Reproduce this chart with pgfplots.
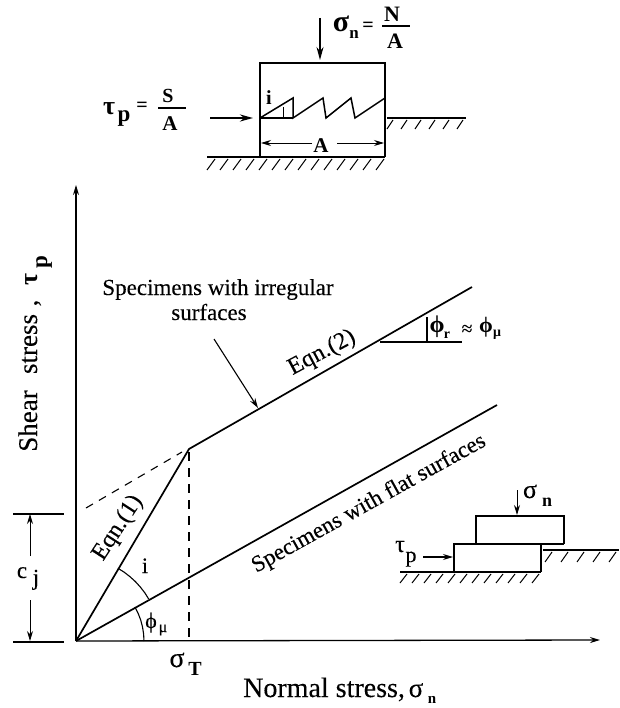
\documentclass[border=0pt]{standalone}
\usepackage{pgfplots}
\pgfplotsset{compat=1.18}
\usepackage{fontspec}
\setmainfont[FakeBold=0.2,BoldFeatures={FakeBold=0}]{Liberation Serif}
\usetikzlibrary{arrows.meta}
\newcommand{\fs}[1]{\fontsize{#1}{#1}\selectfont}
\tikzset{
  arr/.style={-{Stealth[length=10pt,width=6pt]}},
  bigarr/.style={-{Stealth[length=13pt,width=7pt]}},
  txt/.style={inner sep=0pt, anchor=base, font=\fs{#1}},
  btxt/.style={inner sep=0pt, anchor=base, font=\fs{#1}\bfseries}}

\begin{document}
\begin{tikzpicture}
\useasboundingbox (0,0) rectangle (619pt,708pt);
\begin{axis}[
  at={(0,0)}, anchor=south west,
  scale only axis, width=619pt, height=708pt,
  xmin=0, xmax=619, ymin=0, ymax=708, y dir=reverse,
  hide axis, clip=false, unbounded coords=jump,
  cycle list={{black}},
  every axis plot/.append style={line width=1.5pt, no markers}]

  % main axes
  \addplot[arr, line width=1.3pt] coordinates {(76,641) (76,185)};
  \addplot[arr, line width=1.3pt] coordinates {(76,641) (600,640)};

  % failure envelopes
  \addplot[line width=1.7pt] coordinates {(76,641) (189,449) (472,287)};
  \addplot[line width=1.7pt] coordinates {(76,641) (497,405)};
  \addplot[line width=1.1pt, dash pattern=on 8pt off 7pt] coordinates {(86,508) (182,452)};
  \addplot[line width=1.6pt, dash pattern=on 9pt off 7pt] coordinates {(189,452) (189,641)};

  % angle arcs
  \addplot[line width=1.1pt] coordinates {(118,568.3) (124.2,572.2) (130,576.7) (135.4,581.6) (140.3,587) (144.8,592.8) (148.7,599)};
  \addplot[line width=1.1pt] coordinates {(134.9,607) (138.1,613.3) (140.7,620) (142.5,626.9) (143.6,633.9) (144,641)};

  % slope triangle
  \addplot[line width=1.1pt] coordinates {(380,342) (462,342)};
  \addplot[line width=1.1pt] coordinates {(427,342) (427,317)};

  % c_j dimension
  \addplot[line width=1.2pt] coordinates {(13,514) (64,514)};
  \addplot[line width=1.2pt] coordinates {(13,642) (64,642)};
  \addplot[arr, line width=.9pt] coordinates {(30,556) (30,514)};
  \addplot[arr, line width=.9pt] coordinates {(30,600) (30,641)};

  % pointer to the upper envelope
  \addplot[arr, line width=1.1pt] coordinates {(214,339) (258,408)};

  % top sketch: box, teeth, ground
  \addplot coordinates {(260,157) (260,63) (385,63) (385,157)};
  \addplot coordinates {(260,118) (293,98) (293,118) (323,98) (326,118) (351,98) (355,118) (385,98) (385,118)};
  \addplot[line width=1.6pt] coordinates {(260,118) (293,118)};
  \addplot[line width=.8pt] coordinates {(283,107) (283,118)};
  \addplot coordinates {(207,157) (385,157)};
  \addplot coordinates {(387,118) (466,118)};
  \addplot[line width=1pt] coordinates {
    (207,170) (215,159) (0,nan) (220,170) (228,159) (0,nan) (233,170) (241,159) (0,nan) (246,170) (254,159) (0,nan)
    (259,170) (267,159) (0,nan) (272,170) (280,159) (0,nan) (285,170) (293,159) (0,nan) (298,170) (306,159) (0,nan)
    (311,170) (319,159) (0,nan) (324,170) (332,159) (0,nan) (337,170) (345,159) (0,nan) (350,170) (358,159) (0,nan)
    (363,170) (371,159) (0,nan) (376,170) (384,159)};
  \addplot[line width=1pt] coordinates {
    (387,129) (393,120) (0,nan) (401,129) (407,120) (0,nan) (415,129) (421,120) (0,nan) (429,129) (435,120) (0,nan)
    (443,129) (449,120) (0,nan) (457,129) (463,120)};
  \addplot[bigarr, line width=1.1pt] coordinates {(320,18) (320,60)};
  \addplot[bigarr, line width=2.2pt] coordinates {(210,118) (253,118)};
  \addplot[arr, line width=.9pt] coordinates {(312,143) (261,143)};
  \addplot[arr, line width=.9pt] coordinates {(337,143) (384,143)};
  \addplot[line width=1.1pt] coordinates {(382,26) (410,26)};
  \addplot[line width=1.1pt] coordinates {(158,108) (186,108)};

  % small sketch
  \addplot coordinates {(476,544) (476,516) (564,516) (564,544)};
  \addplot coordinates {(454,572) (454,544) (564,544)};
  \addplot coordinates {(541,544) (541,572)};
  \addplot coordinates {(400,572) (541,572)};
  \addplot coordinates {(543,550) (619,550)};
  \addplot[line width=1pt] coordinates {
    (400,583) (407,574) (0,nan) (412,583) (419,574) (0,nan) (424,583) (431,574) (0,nan) (436,583) (443,574) (0,nan)
    (448,583) (455,574) (0,nan) (460,583) (467,574) (0,nan) (472,583) (479,574) (0,nan) (484,583) (491,574) (0,nan)
    (496,583) (503,574) (0,nan) (508,583) (515,574) (0,nan) (520,583) (527,574) (0,nan) (532,583) (539,574)};
  \addplot[line width=1pt] coordinates {
    (545,562) (552,552) (0,nan) (561,562) (568,552) (0,nan) (577,562) (584,552) (0,nan) (593,562) (600,552) (0,nan)
    (609,562) (616,552)};
  \addplot[arr, line width=.9pt] coordinates {(517,490) (517,515)};
  \addplot[arr, line width=1.1pt] coordinates {(423,557) (453,557)};

  % text of the main chart
  \node[txt=27, rotate=90] at (axis cs:37,421) {Shear};
  \node[txt=27, rotate=90] at (axis cs:37,344) {stress};
  \node[txt=27, rotate=90] at (axis cs:37,303) {,};
  \node[btxt=26, rotate=90] at (axis cs:37,280) {τ};
  \node[btxt=23, rotate=90] at (axis cs:47,262) {p};
  \node[txt=28, anchor=base west] at (axis cs:243,697) {Normal stress,};
  \node[txt=27] at (axis cs:416,697) {σ};
  \node[btxt=15] at (axis cs:432,703) {n};
  \node[txt=23] at (axis cs:218,295) {Specimens with irregular};
  \node[txt=23] at (axis cs:209,320) {surfaces};
  \node[txt=24, anchor=center, rotate=28] at (axis cs:322,353) {Eqn.(2)};
  \node[txt=24, anchor=center, rotate=57] at (axis cs:118,528) {Eqn.(1)};
  \node[txt=23, anchor=center, rotate=29] at (axis cs:369,504) {Specimens with flat surfaces};
  \node[txt=22] at (axis cs:145,573) {i};
  \node[txt=22] at (axis cs:151,628) {ϕ};
  \node[txt=16] at (axis cs:163,632) {μ};
  \node[txt=28] at (axis cs:177,667) {σ};
  \node[btxt=20] at (axis cs:195,675) {T};
  \node[txt=23] at (axis cs:22,578) {c};
  \node[txt=23] at (axis cs:36,585) {j};
  \node[btxt=24] at (axis cs:437,332) {ϕ};
  \node[btxt=14] at (axis cs:447,338) {r};
  \node[txt=20, anchor=center] at (axis cs:467,330) {≈};
  \node[btxt=22] at (axis cs:486,332) {ϕ};
  \node[btxt=14] at (axis cs:497,336) {μ};

  % text of the top sketch
  \node[btxt=30] at (axis cs:341,32) {σ};
  \node[btxt=17] at (axis cs:354,39) {n};
  \node[btxt=20, anchor=center] at (axis cs:368,27) {=};
  \node[btxt=22] at (axis cs:392,22) {N};
  \node[btxt=22] at (axis cs:395,49) {A};
  \node[btxt=26] at (axis cs:109,115) {τ};
  \node[btxt=23] at (axis cs:124,122) {p};
  \node[btxt=20, anchor=center] at (axis cs:142,107) {=};
  \node[btxt=20] at (axis cs:168,103) {S};
  \node[btxt=21] at (axis cs:170,131) {A};
  \node[btxt=20] at (axis cs:269,105) {i};
  \node[btxt=21] at (axis cs:321,153) {A};

  % text of the small sketch
  \node[txt=26] at (axis cs:530,498) {σ};
  \node[btxt=18] at (axis cs:547,506) {n};
  \node[txt=24] at (axis cs:400,552) {τ};
  \node[txt=22] at (axis cs:411,562) {p};
\end{axis}
\end{tikzpicture}
\end{document}
